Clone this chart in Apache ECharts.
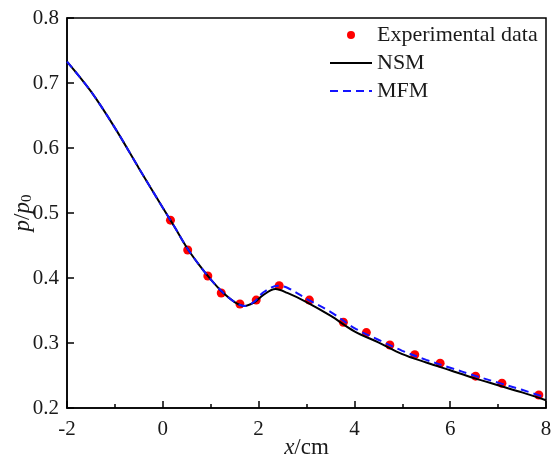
<!DOCTYPE html>
<html>
<head>
<meta charset="utf-8">
<script src="https://cdn.jsdelivr.net/npm/echarts@6/dist/echarts.min.js"></script>
<style>html,body{margin:0;padding:0;background:#fff;}#c{width:551px;height:454px;}</style>
</head>
<body>
<div id="c"></div>
<script>
// Experimental data
var expX = [0.16, 0.52, 0.94, 1.22, 1.61, 1.95, 2.43, 3.06, 3.77, 4.25, 4.74, 5.26, 5.79, 6.53, 7.08, 7.85];
var expY = [0.489, 0.443, 0.403, 0.377, 0.360, 0.366, 0.388, 0.366, 0.332, 0.316, 0.297, 0.282, 0.269, 0.249, 0.238, 0.220];
// NSM curve
var nsmX = [-2, -1.5, -1, -0.5, 0, 0.25, 0.5, 0.75, 1.0, 1.25, 1.5, 1.7, 1.9, 2.1, 2.35, 2.6, 3.0, 3.5, 4.0, 4.5, 5.0, 5.5, 6.0, 6.5, 7.0, 7.5, 8.0];
var nsmY = [0.733, 0.687, 0.631, 0.569, 0.508, 0.478, 0.447, 0.421, 0.398, 0.378, 0.363, 0.357, 0.362, 0.374, 0.383, 0.377, 0.363, 0.342, 0.318, 0.301, 0.283, 0.270, 0.258, 0.246, 0.235, 0.224, 0.212];
// MFM curve
var mfmX = [-2, -1.5, -1, -0.5, 0, 0.25, 0.5, 0.75, 1.0, 1.25, 1.5, 1.7, 1.9, 2.1, 2.4, 2.6, 3.0, 3.5, 4.0, 4.5, 5.0, 5.5, 6.0, 6.5, 7.0, 7.5, 8.0];
var mfmY = [0.733, 0.687, 0.631, 0.569, 0.508, 0.478, 0.447, 0.421, 0.398, 0.378, 0.363, 0.357, 0.363, 0.378, 0.388, 0.385, 0.368, 0.348, 0.323, 0.305, 0.288, 0.274, 0.262, 0.250, 0.239, 0.228, 0.216];
// Axis ticks
var xMin = -2, xMax = 8, xStep = 2;
var yMin = 0.2, yMax = 0.8, yStep = 0.1;

function zip(a, b) { return a.map(function (v, i) { return [v, b[i]]; }); }

var FONT = '"Liberation Serif", "Times New Roman", serif';
var TXT = '#1a1a1a';
var chart = echarts.init(document.getElementById('c'), null, { renderer: 'canvas' });
chart.setOption({
  animation: false,
  backgroundColor: '#fff',
  grid: { left: 67, right: 5, top: 18, bottom: 46, outerBoundsMode: 'none', containLabel: false, show: true, borderColor: '#000', borderWidth: 1.5, backgroundColor: 'transparent' },
  legend: {
    orient: 'vertical', left: 324, top: 19, itemWidth: 42, itemHeight: 8, itemGap: 6,
    textStyle: { fontFamily: FONT, fontSize: 22, color: TXT, lineHeight: 22 },
    data: [
      { name: 'Experimental data', icon: 'circle' },
      { name: 'NSM', itemStyle: { opacity: 0 } },
      { name: 'MFM', itemStyle: { opacity: 0 } }
    ]
  },
  xAxis: {
    type: 'value', min: xMin, max: xMax, interval: xStep,
    name: '{i|x}{n|/cm}', nameLocation: 'middle', nameGap: 28, nameMoveOverlap: false,
    nameTextStyle: { rich: {
      i: { fontFamily: FONT, fontSize: 23, fontStyle: 'italic', color: TXT },
      n: { fontFamily: FONT, fontSize: 23, color: TXT } } },
    axisLine: { onZero: false, lineStyle: { color: '#000', width: 1.5 } },
    axisTick: { inside: true, length: 7, lineStyle: { color: '#000', width: 1.5 } },
    minorTick: { show: true, splitNumber: 2, length: 4, lineStyle: { color: '#000', width: 1.5 } },
    splitLine: { show: false },
    axisLabel: { fontFamily: FONT, fontSize: 21, color: TXT, margin: 11 }
  },
  yAxis: {
    type: 'value', min: yMin, max: yMax, interval: yStep,
    name: '{i|p}{n|/}{i|p}{s|0}', nameLocation: 'middle', nameGap: 32, nameMoveOverlap: false,
    nameTextStyle: { rich: {
      i: { fontFamily: FONT, fontSize: 23, fontStyle: 'italic', color: TXT },
      n: { fontFamily: FONT, fontSize: 23, color: TXT },
      s: { fontFamily: FONT, fontSize: 15, color: TXT, padding: [10, 0, 0, 0] } } },
    axisLine: { onZero: false, lineStyle: { color: '#000', width: 1.5 } },
    axisTick: { inside: true, length: 7, lineStyle: { color: '#000', width: 1.5 } },
    splitLine: { show: false },
    axisLabel: { fontFamily: FONT, fontSize: 21, color: TXT, margin: 8, formatter: function (v) { return v.toFixed(1); } }
  },
  series: [
    { name: 'Experimental data', type: 'scatter', data: zip(expX, expY), symbol: 'circle', symbolSize: 9, itemStyle: { color: '#ff0000', opacity: 1 }, z: 1 },
    { name: 'NSM', type: 'line', data: zip(nsmX, nsmY), smooth: 0.35, symbol: 'none', lineStyle: { color: '#000', width: 2 }, itemStyle: { color: '#000' }, z: 2 },
    { name: 'MFM', type: 'line', data: zip(mfmX, mfmY), smooth: 0.35, symbol: 'none', lineStyle: { color: '#1414ff', width: 2, type: [8, 5] }, itemStyle: { color: '#1414ff' }, z: 3 }
  ]
});
</script>
</body>
</html>
